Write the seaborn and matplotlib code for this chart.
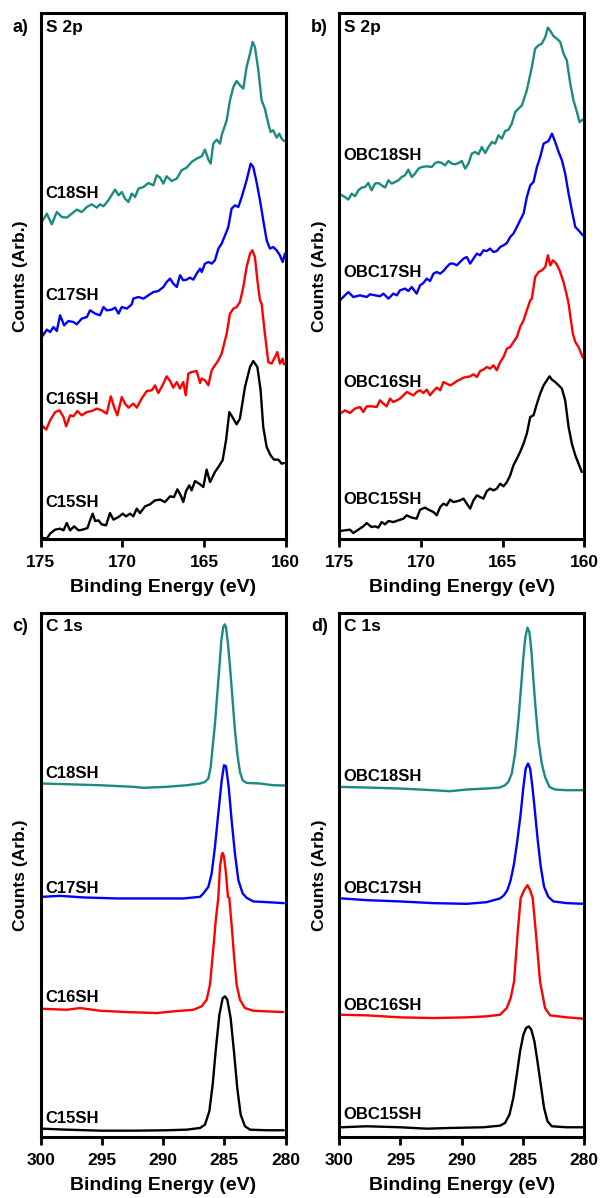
import numpy as np
import pandas as pd
import matplotlib
matplotlib.use("Agg")
import matplotlib.pyplot as plt
import seaborn as sns

sns.set_style("ticks")
plt.rcParams['font.family'] = ['Liberation Sans', 'DejaVu Sans']
plt.rcParams['font.weight'] = 'bold'
plt.rcParams['text.color'] = 'black'
plt.rcParams['axes.labelcolor'] = 'black'
plt.rcParams['axes.edgecolor'] = 'black'
plt.rcParams['xtick.color'] = 'black'
plt.rcParams['ytick.color'] = 'black'

# ---------------- data (arbitrary counts) ----------------
# panel a) S 2p, CnSH
a_c18_ev = [174.94, 174.63, 174.33, 174.02, 173.71, 173.41, 173.10, 172.80, 172.49, 172.18,
            171.88, 171.57, 171.37, 171.16, 170.86, 170.45, 170.24, 170.04, 169.84, 169.63,
            169.43, 169.22, 169.02, 168.71, 168.41, 168.10, 167.90, 167.69, 167.49, 167.29,
            166.98, 166.67, 166.37, 166.06, 165.76, 165.45, 165.14, 164.94, 164.73, 164.59,
            164.43, 164.22, 164.02, 163.92, 163.61, 163.41, 163.20, 163.00, 162.80, 162.59,
            162.39, 162.18, 162.02, 161.88, 161.67, 161.47, 161.27, 161.06, 160.92, 160.76,
            160.55, 160.39, 160.24, 160.10]
a_c18_y = [317.3, 325.7, 315.0, 327.3, 322.3, 321.7, 325.7, 329.7, 327.3, 332.3,
           335.0, 331.7, 335.0, 333.0, 339.0, 349.7, 344.0, 347.3, 340.7, 337.3,
           345.7, 342.3, 350.7, 352.3, 356.3, 354.0, 364.0, 361.7, 355.7, 363.0,
           358.3, 360.7, 369.0, 371.7, 377.3, 380.7, 383.0, 389.7, 379.7, 375.7,
           395.7, 399.7, 395.7, 404.0, 419.0, 439.0, 452.3, 458.3, 454.0, 450.7,
           472.3, 485.7, 497.3, 492.3, 469.0, 439.0, 430.7, 415.7, 407.3, 409.0,
           401.7, 405.7, 400.7, 398.3]

a_c17_ev = [174.94, 174.63, 174.43, 174.22, 174.02, 173.82, 173.57, 173.31, 173.00, 172.80,
            172.49, 172.18, 171.98, 171.67, 171.37, 171.16, 170.96, 170.65, 170.45, 170.24,
            170.04, 169.73, 169.43, 169.33, 169.02, 168.71, 168.41, 168.10, 167.80, 167.49,
            167.29, 167.08, 166.88, 166.67, 166.47, 166.27, 166.06, 165.86, 165.65, 165.45,
            165.24, 165.14, 164.94, 164.73, 164.53, 164.33, 164.12, 163.92, 163.71, 163.51,
            163.31, 163.10, 162.90, 162.69, 162.39, 162.14, 161.98, 161.78, 161.57, 161.37,
            161.16, 160.96, 160.76, 160.55, 160.35, 160.18, 160.04]
a_c17_y = [202.3, 209.7, 207.3, 212.3, 208.3, 224.0, 214.0, 218.3, 217.3, 215.0,
           220.7, 222.3, 229.0, 225.7, 224.0, 232.3, 229.0, 229.7, 231.7, 225.7,
           232.3, 230.7, 235.0, 240.7, 242.3, 240.7, 244.0, 247.3, 248.3, 252.3,
           257.3, 260.7, 255.7, 252.3, 264.0, 259.0, 259.7, 261.7, 259.7, 265.7,
           270.7, 267.3, 275.7, 277.3, 275.7, 279.0, 290.7, 295.7, 304.0, 312.3,
           330.7, 334.0, 332.3, 342.3, 359.0, 375.7, 372.3, 357.3, 339.0, 319.0,
           299.0, 290.7, 292.3, 289.0, 284.0, 277.3, 285.7]

a_c16_ev = [174.94, 174.67, 174.43, 174.12, 173.86, 173.61, 173.45, 173.20, 173.00, 172.76,
            172.49, 172.18, 171.88, 171.57, 171.27, 170.96, 170.71, 170.51, 170.31, 170.04,
            169.84, 169.63, 169.33, 169.12, 168.82, 168.51, 168.20, 168.00, 167.80, 167.49,
            167.29, 167.08, 166.88, 166.67, 166.47, 166.27, 166.12, 165.96, 165.76, 165.45,
            165.24, 165.14, 164.94, 164.73, 164.53, 164.33, 164.12, 163.92, 163.61, 163.41,
            163.20, 163.00, 162.80, 162.59, 162.39, 162.18, 162.04, 161.88, 161.73, 161.57,
            161.47, 161.27, 161.06, 160.86, 160.65, 160.51, 160.35, 160.18, 160.10]
a_c16_y = [114.0, 109.7, 119.0, 127.3, 129.0, 122.3, 113.0, 124.0, 123.0, 128.3,
           124.0, 127.3, 128.3, 130.7, 129.0, 125.7, 143.0, 132.3, 124.0, 142.3,
           135.7, 131.7, 135.7, 131.7, 140.7, 148.3, 149.0, 154.0, 146.3, 155.7,
           163.0, 158.3, 151.7, 157.3, 150.7, 157.3, 144.0, 165.7, 167.3, 168.3,
           156.3, 160.7, 159.0, 154.0, 169.0, 174.0, 179.0, 185.7, 205.7, 225.7,
           230.7, 232.3, 237.3, 252.3, 272.3, 285.7, 289.0, 282.3, 259.0, 239.0,
           235.7, 205.7, 177.3, 175.7, 182.3, 187.3, 175.7, 180.7, 175.0]

a_c15_ev = [174.94, 174.63, 174.43, 174.12, 173.82, 173.61, 173.41, 173.20, 172.96, 172.69,
            172.43, 172.14, 171.98, 171.82, 171.67, 171.47, 171.27, 171.00, 170.76, 170.55,
            170.24, 169.98, 169.78, 169.53, 169.33, 169.12, 168.92, 168.61, 168.31, 168.00,
            167.69, 167.39, 167.08, 166.84, 166.63, 166.43, 166.27, 166.10, 165.90, 165.76,
            165.55, 165.24, 165.04, 164.84, 164.63, 164.33, 164.12, 163.86, 163.65, 163.45,
            163.24, 163.00, 162.80, 162.49, 162.18, 161.98, 161.73, 161.53, 161.37, 161.16,
            160.92, 160.71, 160.45, 160.24, 160.10]
a_c15_y = [1.7, 0.7, 5.7, 9.7, 10.7, 9.0, 16.3, 9.0, 13.0, 9.0,
           9.7, 11.3, 19.0, 25.7, 18.3, 19.0, 15.0, 14.0, 26.3, 19.7,
           22.3, 25.7, 23.0, 25.7, 23.0, 30.7, 26.3, 33.0, 35.0, 39.0,
           39.7, 37.3, 43.0, 42.3, 50.0, 44.0, 37.3, 48.3, 54.0, 49.0,
           58.3, 55.0, 52.3, 69.7, 57.3, 67.3, 72.3, 79.0, 99.0, 127.3,
           121.7, 115.0, 120.7, 152.3, 172.3, 178.3, 172.3, 149.0, 112.3, 92.3,
           84.0, 79.7, 79.7, 75.7, 76.3]

# panel b) S 2p, OBCnSH
b_c18_ev = [174.96, 174.65, 174.45, 174.24, 174.04, 173.83, 173.63, 173.43, 173.22, 173.02,
            172.81, 172.61, 172.40, 172.20, 171.99, 171.79, 171.58, 171.38, 171.18, 170.97,
            170.77, 170.56, 170.36, 170.15, 169.95, 169.64, 169.34, 169.13, 168.93, 168.72,
            168.52, 168.31, 168.11, 167.90, 167.70, 167.49, 167.29, 167.09, 166.88, 166.68,
            166.47, 166.27, 166.06, 165.86, 165.65, 165.45, 165.25, 165.04, 164.84, 164.63,
            164.43, 164.22, 164.02, 163.81, 163.51, 163.20, 163.00, 162.79, 162.59, 162.38,
            162.22, 162.07, 161.87, 161.67, 161.46, 161.26, 161.06, 160.85, 160.65, 160.44,
            160.28, 160.08]
b_c18_y = [345.0, 342.3, 339.7, 345.7, 343.0, 349.0, 351.7, 352.3, 356.3, 349.0,
           355.7, 356.3, 354.0, 351.7, 359.0, 355.7, 357.3, 359.0, 362.3, 364.0,
           369.7, 362.3, 365.7, 370.7, 372.3, 373.0, 372.3, 376.3, 377.3, 376.3,
           374.0, 378.3, 375.7, 375.0, 376.3, 378.3, 370.7, 375.7, 385.7, 387.3,
           385.0, 392.3, 386.3, 392.3, 397.3, 395.7, 404.0, 400.7, 408.3, 409.7,
           415.7, 427.3, 430.7, 434.0, 449.0, 472.3, 490.7, 494.0, 495.7, 502.3,
           511.7, 508.3, 503.0, 500.7, 497.3, 485.7, 479.0, 455.7, 439.0, 427.3,
           417.3, 419.7]

b_c17_ev = [174.96, 174.45, 174.14, 173.73, 173.32, 173.12, 172.81, 172.51, 172.30, 171.99,
            171.69, 171.48, 171.28, 170.97, 170.77, 170.56, 170.26, 170.05, 169.85, 169.64,
            169.44, 169.23, 169.03, 168.82, 168.62, 168.42, 168.21, 168.01, 167.80, 167.60,
            167.39, 167.19, 166.98, 166.78, 166.57, 166.37, 166.17, 165.96, 165.76, 165.55,
            165.35, 165.14, 164.94, 164.73, 164.53, 164.33, 164.12, 163.92, 163.71, 163.51,
            163.30, 163.10, 162.89, 162.69, 162.48, 162.18, 161.97, 161.77, 161.56, 161.36,
            161.16, 160.95, 160.75, 160.54, 160.34, 160.08]
b_c17_y = [239.0, 247.3, 242.3, 244.0, 242.3, 245.0, 244.0, 243.0, 245.7, 240.7,
           245.7, 244.0, 249.0, 250.7, 248.3, 252.3, 245.7, 254.0, 256.3, 260.7,
           258.3, 265.7, 267.3, 265.7, 268.3, 272.3, 275.7, 275.7, 274.0, 277.3,
           280.7, 282.3, 275.7, 280.7, 285.7, 284.0, 289.0, 288.3, 290.7, 287.3,
           288.3, 292.3, 294.0, 296.3, 302.3, 305.7, 312.3, 319.0, 325.7, 342.3,
           354.0, 357.3, 372.3, 382.3, 395.7, 398.3, 405.7, 397.3, 387.3, 379.0,
           365.7, 345.7, 329.0, 312.3, 309.0, 304.0]

b_c16_ev = [174.96, 174.65, 174.35, 174.04, 173.73, 173.53, 173.32, 173.02, 172.71, 172.51,
            172.30, 172.10, 171.89, 171.69, 171.48, 171.28, 171.07, 170.87, 170.66, 170.46,
            170.26, 170.05, 169.85, 169.64, 169.44, 169.23, 169.03, 168.82, 168.62, 168.42,
            168.21, 168.01, 167.80, 167.60, 167.39, 167.19, 166.98, 166.78, 166.57, 166.37,
            166.17, 165.96, 165.76, 165.55, 165.35, 165.14, 164.94, 164.73, 164.53, 164.33,
            164.12, 163.92, 163.71, 163.51, 163.30, 163.20, 163.00, 162.79, 162.59, 162.38,
            162.22, 162.07, 161.91, 161.71, 161.50, 161.26, 161.06, 160.95, 160.81, 160.69,
            160.54, 160.34, 160.08]
b_c16_y = [125.7, 129.0, 126.3, 130.7, 132.3, 127.3, 133.0, 133.0, 132.3, 139.0,
           135.7, 133.0, 140.7, 137.3, 139.0, 140.7, 144.0, 147.3, 145.7, 144.0,
           147.3, 149.0, 146.3, 149.7, 144.0, 148.3, 151.7, 149.0, 157.3, 155.7,
           154.0, 155.7, 158.3, 159.7, 161.7, 162.3, 163.0, 165.0, 162.3, 168.3,
           169.7, 172.3, 170.7, 174.0, 169.0, 177.3, 182.3, 190.7, 192.3, 197.3,
           202.3, 212.3, 219.0, 229.0, 239.0, 240.7, 262.3, 267.3, 269.0, 272.3,
           284.0, 274.0, 279.0, 275.7, 269.0, 257.3, 244.0, 235.7, 219.0, 205.7,
           197.3, 192.3, 181.7]

b_c15_ev = [174.96, 174.65, 174.35, 174.14, 173.83, 173.53, 173.32, 173.02, 172.81, 172.61,
            172.40, 172.20, 171.99, 171.69, 171.38, 171.07, 170.87, 170.56, 170.26, 170.05,
            169.74, 169.54, 169.23, 169.03, 168.82, 168.62, 168.42, 168.21, 168.01, 167.80,
            167.60, 167.39, 167.19, 166.98, 166.78, 166.57, 166.37, 166.17, 165.96, 165.76,
            165.55, 165.35, 165.14, 164.94, 164.73, 164.53, 164.33, 164.12, 163.92, 163.71,
            163.51, 163.30, 163.10, 162.89, 162.69, 162.48, 162.28, 162.12, 161.97, 161.77,
            161.56, 161.36, 161.16, 160.95, 160.75, 160.54, 160.34, 160.14]
b_c15_y = [8.3, 9.0, 9.7, 6.3, 9.7, 13.0, 16.3, 12.3, 13.0, 11.7,
           17.3, 15.0, 18.3, 17.3, 19.0, 20.7, 24.0, 21.7, 20.7, 29.7,
           31.7, 29.7, 27.3, 24.0, 32.3, 35.7, 34.0, 39.7, 37.3, 38.0,
           39.0, 40.7, 35.7, 30.7, 39.0, 44.0, 42.3, 40.7, 48.3, 50.7,
           49.0, 50.7, 55.7, 53.0, 57.3, 64.0, 74.0, 80.7, 87.3, 95.7,
           105.7, 122.3, 124.0, 135.7, 145.7, 154.0, 159.0, 163.0, 159.7, 157.3,
           154.0, 150.7, 139.0, 112.3, 95.7, 84.0, 75.7, 67.3]

# panel c) C 1s, CnSH
c_c18_ev = [299.92, 297.88, 295.16, 292.44, 291.62, 289.71, 288.08, 286.99, 286.59, 286.31,
            286.12, 285.96, 285.77, 285.58, 285.41, 285.25, 285.09, 284.98, 284.87, 284.71,
            284.54, 284.35, 284.16, 283.95, 283.73, 283.51, 283.18, 282.10, 281.01, 280.05]
c_c18_y = [354.0, 353.3, 352.3, 350.7, 349.7, 350.7, 352.3, 354.0, 355.6, 359.0,
           370.6, 390.6, 413.9, 443.9, 470.6, 497.3, 510.6, 513.3, 510.6, 494.0,
           470.6, 440.6, 410.6, 384.0, 365.6, 357.3, 354.6, 354.0, 352.3, 352.0]

c_c17_ev = [299.92, 298.42, 296.52, 293.80, 291.07, 288.35, 286.99, 286.72, 286.31, 286.04,
            285.77, 285.50, 285.22, 285.03, 284.87, 284.65, 284.41, 284.14, 283.86, 283.51,
            283.18, 282.64, 281.55, 280.14]
c_c17_y = [240.6, 241.6, 240.0, 239.0, 239.0, 239.0, 240.6, 244.0, 250.6, 264.0,
           290.6, 324.0, 357.3, 372.3, 371.3, 350.6, 317.3, 284.0, 257.3, 244.0,
           239.6, 236.0, 235.3, 234.3]

c_c16_ev = [299.92, 297.88, 296.79, 295.16, 292.98, 290.53, 289.17, 287.54, 286.86, 286.45,
            286.18, 285.90, 285.69, 285.50, 285.36, 285.22, 285.14, 285.03, 284.87, 284.71,
            284.60, 284.41, 284.22, 284.00, 283.73, 283.32, 282.64, 281.55, 280.19]
c_c16_y = [128.6, 127.6, 129.3, 126.6, 125.3, 124.3, 126.0, 127.6, 131.0, 137.6,
           152.6, 189.3, 219.3, 239.3, 270.6, 282.3, 284.6, 280.6, 264.0, 240.6,
           239.3, 212.6, 182.6, 152.6, 137.6, 129.3, 126.6, 126.0, 125.3]

c_c15_ev = [299.92, 297.88, 295.16, 292.44, 289.71, 288.08, 286.99, 286.59, 286.23, 285.96,
            285.69, 285.41, 285.14, 284.95, 284.76, 284.49, 284.22, 283.95, 283.67, 283.32,
            282.91, 281.55, 280.14]
c_c15_y = [8.6, 7.6, 6.6, 6.6, 7.0, 7.6, 9.3, 12.6, 26.0, 52.6,
           89.3, 122.6, 139.3, 141.0, 137.6, 119.3, 86.0, 49.3, 22.6, 11.0,
           7.6, 7.0, 7.0]

# panel d) C 1s, OBCnSH
d_c18_ev = [299.81, 297.77, 295.04, 292.32, 290.95, 289.59, 287.96, 286.87, 286.46, 286.19,
            285.91, 285.64, 285.37, 285.15, 284.96, 284.80, 284.63, 284.47, 284.31, 284.14,
            283.95, 283.73, 283.46, 283.19, 282.83, 282.37, 281.42, 280.00]
d_c18_y = [350.6, 350.0, 349.0, 347.3, 346.3, 348.0, 349.0, 350.0, 352.3, 355.6,
           364.0, 384.0, 417.3, 450.6, 480.6, 500.6, 510.0, 505.6, 487.3, 457.3,
           427.3, 397.3, 374.0, 360.6, 350.6, 348.0, 347.3, 347.3]

d_c17_ev = [299.81, 297.77, 295.04, 292.32, 289.59, 287.96, 286.87, 286.54, 286.27, 286.00,
            285.72, 285.45, 285.18, 284.96, 284.77, 284.58, 284.41, 284.22, 284.00, 283.79,
            283.54, 283.27, 282.92, 282.51, 281.42, 280.00]
d_c17_y = [239.0, 237.3, 236.0, 234.3, 233.6, 235.3, 239.0, 242.3, 247.3, 257.3,
           274.0, 297.3, 324.0, 350.6, 369.0, 374.0, 369.0, 350.6, 324.0, 297.3,
           270.6, 250.6, 240.6, 236.0, 234.3, 233.6]

d_c16_ev = [299.81, 297.77, 295.04, 292.32, 289.59, 287.96, 286.87, 286.32, 286.00, 285.72,
            285.42, 285.18, 284.90, 284.63, 284.41, 284.20, 283.95, 283.60, 283.19, 282.78,
            281.42, 280.00]
d_c16_y = [122.6, 122.0, 120.0, 119.3, 120.0, 121.0, 122.6, 129.3, 139.3, 156.0,
           206.0, 239.3, 247.3, 252.3, 247.3, 239.3, 206.0, 156.0, 129.3, 122.0,
           120.0, 118.6]

d_c15_ev = [299.81, 297.77, 295.04, 292.86, 290.95, 288.23, 286.87, 286.46, 286.10, 285.78,
            285.50, 285.23, 284.96, 284.74, 284.52, 284.31, 284.06, 283.81, 283.54, 283.27,
            282.99, 282.64, 281.42, 280.00]
d_c15_y = [10.0, 11.0, 10.0, 8.6, 9.3, 10.0, 11.6, 14.3, 22.6, 39.3,
           62.6, 86.0, 102.6, 109.3, 111.0, 107.6, 96.0, 76.0, 52.6, 29.3,
           16.0, 11.0, 10.0, 10.0]

# sample names and label heights
names_c = ['C18SH', 'C17SH', 'C16SH', 'C15SH']
names_obc = ['OBC18SH', 'OBC17SH', 'OBC16SH', 'OBC15SH']
label_y_a = [346, 244, 140, 37]
label_y_b = [384, 267, 157, 40]
label_y_c = [364, 249, 140, 19]
label_y_d = [361, 249, 132, 23]

colors = ['#1b8a80', '#0000ff', '#ff0000', '#000000']

panels = [
    ('a)', 'S 2p', [(a_c18_ev, a_c18_y), (a_c17_ev, a_c17_y), (a_c16_ev, a_c16_y), (a_c15_ev, a_c15_y)],
     names_c, label_y_a, (175, 160), [175, 170, 165, 160], (0, 526)),
    ('b)', 'S 2p', [(b_c18_ev, b_c18_y), (b_c17_ev, b_c17_y), (b_c16_ev, b_c16_y), (b_c15_ev, b_c15_y)],
     names_obc, label_y_b, (175, 160), [175, 170, 165, 160], (0, 526)),
    ('c)', 'C 1s', [(c_c18_ev, c_c18_y), (c_c17_ev, c_c17_y), (c_c16_ev, c_c16_y), (c_c15_ev, c_c15_y)],
     names_c, label_y_c, (300, 280), [300, 295, 290, 285, 280], (0, 525)),
    ('d)', 'C 1s', [(d_c18_ev, d_c18_y), (d_c17_ev, d_c17_y), (d_c16_ev, d_c16_y), (d_c15_ev, d_c15_y)],
     names_obc, label_y_d, (300, 280), [300, 295, 290, 285, 280], (0, 525)),
]

# axes boxes in figure fraction (left, bottom, width, height)
boxes = [(0.068, 0.5498, 0.408, 0.4391),
         (0.5655, 0.5498, 0.408, 0.4391),
         (0.068, 0.0507, 0.408, 0.4379),
         (0.5655, 0.0507, 0.408, 0.4379)]

fig = plt.figure(figsize=(6, 11.98), dpi=100)

for (tag, core, series, names, label_y, xlim, xticks, ylim), box in zip(panels, boxes):
    ax = fig.add_axes(box)
    for (ev, cnt), col in zip(series, colors):
        df = pd.DataFrame({'ev': ev, 'counts': cnt})
        sns.lineplot(data=df, x='ev', y='counts', ax=ax, color=col, lw=1.7, sort=False)
    ax.set_xlim(*xlim)
    ax.set_ylim(*ylim)
    ax.set_xticks(xticks)
    ax.set_xticklabels([str(t) for t in xticks], fontsize=12.5, fontweight='bold')
    ax.set_yticks([])
    ax.tick_params(axis='x', direction='out', length=6, width=2, pad=5)
    for sp in ax.spines.values():
        sp.set_linewidth(2.2)
        sp.set_visible(True)
    ax.set_xlabel('Binding Energy (eV)', fontsize=14, fontweight='bold', labelpad=7)
    ax.set_ylabel('Counts (Arb.)', fontsize=12.5, fontweight='bold', labelpad=9)
    # sample names
    x_lab = xlim[0] - (xlim[0] - xlim[1]) * 0.017
    for nm, yl in zip(names, label_y):
        ax.text(x_lab, yl, nm, fontsize=12, fontweight='bold', va='center', ha='left')
    ax.text(0.02, 0.973, core, transform=ax.transAxes, fontsize=12.5, fontweight='bold',
            va='center', ha='left')
    ax.text(-0.115, 0.973, tag, transform=ax.transAxes, fontsize=13, fontweight='bold',
            va='center', ha='left')

fig.savefig('out.png', dpi=100)
